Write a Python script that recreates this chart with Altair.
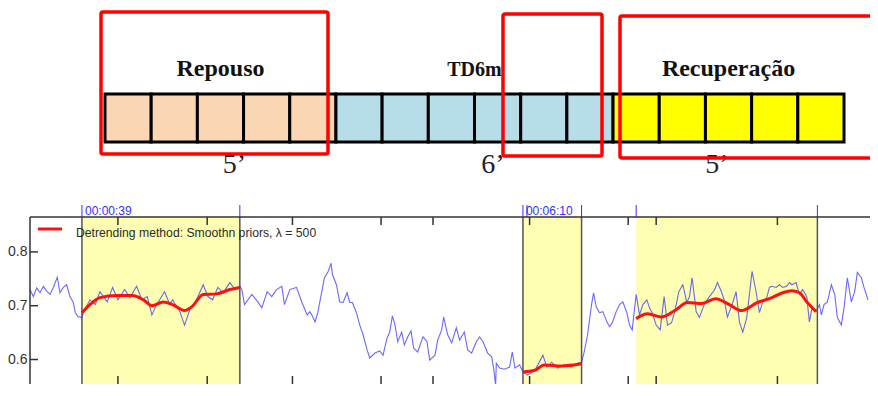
import altair as alt
import pandas as pd

# ---------------- protocol diagram ----------------
phases = ["Repouso", "TD6m", "Recuperação"]
phase_minutes = [5, 6, 5]
phase_colors = ["#FAD6B4", "#B7DEE8", "#FFFF00"]
duration_labels = ["5’", "6’", "5’"]
duration_label_pos = [2.8, 8.4, 13.25]   # minute units

# ---------------- signal (time in s, value) ----------------
seg1_t = [0, 2.5, 5, 7.5, 10, 12.5, 15, 17.5, 20.5, 22.5, 25, 27.5, 30, 32.5, 34, 36, 39]
seg1_v = [0.730, 0.717, 0.733, 0.724, 0.736, 0.727, 0.721, 0.734, 0.753, 0.724, 0.734, 0.739,
          0.717, 0.706, 0.687, 0.680, 0.678]
seg2_t = [40, 45, 49, 52.5, 58, 62, 66, 71, 75, 80, 84, 88, 91.5, 95, 101, 105, 107, 112.5, 116,
          120, 125, 130, 133.5, 137, 141, 145, 150, 154, 157.5]
seg2_v = [0.687, 0.711, 0.702, 0.726, 0.707, 0.734, 0.711, 0.730, 0.715, 0.736, 0.711, 0.717,
          0.683, 0.702, 0.726, 0.702, 0.711, 0.689, 0.664, 0.693, 0.711, 0.739, 0.717, 0.711,
          0.734, 0.724, 0.743, 0.730, 0.736]
seg3_t = [159, 161, 166.5, 171, 174, 178, 181.5, 185, 189, 191, 195, 200, 204, 208, 210]
seg3_v = [0.730, 0.702, 0.721, 0.707, 0.696, 0.726, 0.717, 0.730, 0.736, 0.702, 0.730, 0.734,
          0.707, 0.683, 0.689]
seg4_t = [211.5, 214, 216, 219, 221, 223.5, 226, 227, 230, 232.5, 235, 238, 240, 242, 245, 247.5,
          250, 253, 255, 259, 262.5, 265, 268, 270, 272, 274, 276, 279, 281, 283.5, 286, 288,
          291, 295, 298, 300, 304, 306, 309, 310.5, 313.5]
seg4_v = [0.683, 0.670, 0.687, 0.726, 0.752, 0.762, 0.779, 0.758, 0.739, 0.707, 0.706, 0.724,
          0.706, 0.706, 0.687, 0.664, 0.646, 0.618, 0.603, 0.612, 0.616, 0.608, 0.640, 0.651,
          0.681, 0.664, 0.633, 0.651, 0.627, 0.642, 0.653, 0.621, 0.614, 0.642, 0.633, 0.599,
          0.608, 0.636, 0.655, 0.679, 0.646]
seg5_t = [316.5, 320, 322.5, 326, 328.5, 331.5, 335, 337.5, 340, 343.5, 346.5, 348, 349.5, 350,
          352.5, 356, 360, 362, 364, 367.5, 370]
seg5_v = [0.631, 0.659, 0.636, 0.651, 0.618, 0.612, 0.633, 0.642, 0.633, 0.612, 0.605, 0.584,
          0.552, 0.593, 0.584, 0.582, 0.586, 0.614, 0.584, 0.590, 0.577]
seg6_t = [373.5, 379, 385, 388, 391.5, 396, 401, 406.5, 411, 414]
seg6_v = [0.571, 0.580, 0.608, 0.586, 0.595, 0.584, 0.590, 0.586, 0.593, 0.595]
seg7_t = [416, 418.5, 421.5, 423, 425, 427.5, 430, 433, 435, 437, 440, 442.5, 445, 448, 450, 452, 455]
seg7_v = [0.614, 0.646, 0.702, 0.724, 0.698, 0.687, 0.689, 0.670, 0.661, 0.668, 0.689, 0.702,
          0.707, 0.687, 0.664, 0.655, 0.721]
seg8_t = [457.5, 460, 463, 465, 467, 470, 473, 476, 478.5, 481.5, 484, 487, 490, 493, 495, 497,
          500, 502.5, 506, 510, 514, 516, 519, 521, 523.5, 527, 530, 532.5, 535, 538, 540, 542,
          545, 547.5, 550, 553, 555, 557, 560, 562.5, 565, 568, 570, 572, 575, 577.5, 580, 583,
          585, 587, 590]
seg8_v = [0.683, 0.702, 0.711, 0.696, 0.687, 0.664, 0.655, 0.717, 0.664, 0.668, 0.689, 0.726,
          0.739, 0.706, 0.717, 0.752, 0.689, 0.678, 0.702, 0.717, 0.730, 0.743, 0.726, 0.711,
          0.679, 0.702, 0.726, 0.670, 0.651, 0.678, 0.721, 0.764, 0.726, 0.687, 0.707, 0.715,
          0.734, 0.736, 0.734, 0.739, 0.734, 0.736, 0.743, 0.739, 0.743, 0.721, 0.730, 0.717,
          0.670, 0.696, 0.689]
seg9_t = [592.5, 594, 596, 598.5, 601.5, 604, 606, 609, 611, 613.5, 616.5, 619, 621, 624, 626, 629]
seg9_v = [0.702, 0.683, 0.702, 0.707, 0.739, 0.721, 0.678, 0.664, 0.696, 0.752, 0.707, 0.726,
          0.762, 0.752, 0.734, 0.711]

# smoothed (detrended) curves in the three windows
red1_t = [39, 45, 52.5, 65, 77, 85, 91.5, 100, 107, 116, 121.5, 130, 140, 150, 157.5]
red1_v = [0.687, 0.702, 0.715, 0.719, 0.719, 0.711, 0.700, 0.707, 0.702, 0.691, 0.698, 0.721,
          0.722, 0.730, 0.734]
red2_t = [370, 379, 386, 399, 414]
red2_v = [0.577, 0.580, 0.590, 0.588, 0.592]
red3_t = [455, 463.5, 474, 484, 493.5, 504, 514.5, 525, 534, 546, 555, 565, 571.5, 577.5, 583.5, 590]
red3_v = [0.676, 0.685, 0.679, 0.691, 0.706, 0.704, 0.713, 0.702, 0.691, 0.706, 0.713, 0.724,
          0.728, 0.724, 0.706, 0.689]

shade_start = [39, 370, 455]
shade_end = [157.5, 414, 591]
edge_lines = [39, 157.5, 370, 414, 591]
marker_lines = [39, 157.5, 370, 373, 414, 455, 591]
marker_times = [39, 370]
marker_labels = ["00:00:39", "00:06:10"]
tick_times = [66, 133, 197, 263.5, 302.5, 375, 449, 470, 561]
y_ticks = [0.6, 0.7, 0.8]
legend_text = "Detrending method: Smoothn priors, λ = 500"

# ---------------- layout ----------------
W, H = 840, 376
FRAME_TOP = 209
diag_x = alt.Scale(domain=[-1.624, 16.563], nice=False, zero=False)
time_x = alt.Scale(domain=[0, 630.5], nice=False, zero=False)
val_y = alt.Scale(domain=[0.5545, 1.2533], nice=False, zero=False)
one = pd.DataFrame({"k": [0]})

# tables
box_rows = []
m = 0
for ph, n in zip(phases, phase_minutes):
    for i in range(n):
        box_rows.append({"phase": ph, "start": m, "end": m + 1})
        m += 1
box_df = pd.DataFrame(box_rows)
starts = [sum(phase_minutes[:i]) for i in range(len(phases))]
phase_df = pd.DataFrame({"phase": phases,
                         "center": [s + n / 2 for s, n in zip(starts, phase_minutes)]})
dur_df = pd.DataFrame({"label": duration_labels, "pos": duration_label_pos})

segs_t = [seg1_t, seg2_t, seg3_t, seg4_t, seg5_t, seg6_t, seg7_t, seg8_t, seg9_t]
segs_v = [seg1_v, seg2_v, seg3_v, seg4_v, seg5_v, seg6_v, seg7_v, seg8_v, seg9_v]
blue_t = [t for s in segs_t for t in s]
blue_v = [v for s in segs_v for v in s]
blue_df = pd.DataFrame({"t": blue_t, "v": blue_v})
red_df = pd.concat([
    pd.DataFrame({"t": red1_t, "v": red1_v, "seg": 1}),
    pd.DataFrame({"t": red2_t, "v": red2_v, "seg": 2}),
    pd.DataFrame({"t": red3_t, "v": red3_v, "seg": 3}),
])
shade_df = pd.DataFrame({"a": shade_start, "b": shade_end})
edge_df = pd.DataFrame({"t": edge_lines})
mark_df = pd.DataFrame({"t": marker_lines})
lab_df = pd.DataFrame({"t": marker_times, "label": marker_labels})
tick_df = pd.DataFrame({"t": tick_times})
ytick_df = pd.DataFrame({"v": y_ticks})

layers = []

# shaded windows
layers.append(alt.Chart(shade_df).mark_rect(color="#FFFFB3").encode(
    x=alt.X("a:Q", scale=time_x, axis=None), x2="b:Q",
    y=alt.value(FRAME_TOP), y2=alt.value(H)))
# window edges
layers.append(alt.Chart(edge_df).mark_rule(color="#555555", strokeWidth=1.5).encode(
    x=alt.X("t:Q", scale=time_x, axis=None), y=alt.value(FRAME_TOP), y2=alt.value(H)))
layers.append(alt.Chart(mark_df).mark_rule(color="#3030ff", strokeWidth=1).encode(
    x=alt.X("t:Q", scale=time_x, axis=None), y=alt.value(FRAME_TOP - 12), y2=alt.value(FRAME_TOP)))
layers.append(alt.Chart(lab_df).mark_text(color="#3030ff", fontSize=12, align="left", baseline="alphabetic",
                                          font="Liberation Sans", dx=3).encode(
    x=alt.X("t:Q", scale=time_x, axis=None), y=alt.value(FRAME_TOP - 2), text="label:N"))
# raw signal
layers.append(alt.Chart(blue_df).mark_line(color="#2a2aff", strokeWidth=1.1, opacity=0.7).encode(
    x=alt.X("t:Q", scale=time_x, axis=None),
    y=alt.Y("v:Q", scale=val_y,
            axis=alt.Axis(values=y_ticks, ticks=False, domain=False, grid=False, format=".1f",
                          labelFontSize=14, labelFont="Liberation Sans", labelColor="#333333",
                          labelPadding=3, title=None))))
# smoothed
layers.append(alt.Chart(red_df).mark_line(color="#ff1010", strokeWidth=3, interpolate="monotone").encode(
    x=alt.X("t:Q", scale=time_x, axis=None),
    y=alt.Y("v:Q", scale=val_y, axis=None), detail="seg:N"))
# frame & ticks
layers.append(alt.Chart(one).mark_rule(color="#333333", strokeWidth=1.5).encode(
    x=alt.value(0), x2=alt.value(W), y=alt.value(FRAME_TOP)))
layers.append(alt.Chart(one).mark_rule(color="#333333", strokeWidth=1.5).encode(
    x=alt.value(0), y=alt.value(FRAME_TOP), y2=alt.value(H)))
layers.append(alt.Chart(ytick_df).mark_rule(color="#333333", strokeWidth=1.5).encode(
    y=alt.Y("v:Q", scale=val_y, axis=None), x=alt.value(0), x2=alt.value(8)))
layers.append(alt.Chart(tick_df).mark_rule(color="#333333", strokeWidth=1.5).encode(
    x=alt.X("t:Q", scale=time_x, axis=None), y=alt.value(FRAME_TOP), y2=alt.value(FRAME_TOP + 8)))
layers.append(alt.Chart(tick_df).mark_rule(color="#333333", strokeWidth=1.5).encode(
    x=alt.X("t:Q", scale=time_x, axis=None), y=alt.value(H - 8), y2=alt.value(H)))
# legend
layers.append(alt.Chart(one).mark_rule(color="#ff1010", strokeWidth=3).encode(
    x=alt.value(8), x2=alt.value(32), y=alt.value(221)))
layers.append(alt.Chart(one).mark_text(align="left", baseline="middle", fontSize=12.2, color="#2a2a2a",
                                       font="Liberation Sans").encode(
    x=alt.value(46), y=alt.value(225), text=alt.value(legend_text)))

# protocol boxes
layers.append(alt.Chart(box_df).mark_rect(stroke="black", strokeWidth=3).encode(
    x=alt.X("start:Q", scale=diag_x, axis=None), x2="end:Q",
    y=alt.value(86), y2=alt.value(134),
    color=alt.Color("phase:N", scale=alt.Scale(domain=phases, range=phase_colors), legend=None)))
label_sizes = [24, 20, 24]
for i, ph in enumerate(phases):
    layers.append(alt.Chart(phase_df.iloc[[i]]).mark_text(
        font="Liberation Serif", fontWeight="bold", fontSize=label_sizes[i], color="#111111",
        baseline="alphabetic").encode(
        x=alt.X("center:Q", scale=diag_x, axis=None), y=alt.value(68), text="phase:N"))
layers.append(alt.Chart(dur_df).mark_text(font="Liberation Serif", fontSize=28, color="#1e1e30",
                                          baseline="alphabetic").encode(
    x=alt.X("pos:Q", scale=diag_x, axis=None), y=alt.value(165), text="label:N"))
# red highlight frames
red_boxes = [(71, 298, 4, 146), (473, 572, 6, 148), (590, 900, 8, 150)]
for x1, x2, y1, y2 in red_boxes:
    layers.append(alt.Chart(one).mark_rect(filled=False, stroke="#ff0000", strokeWidth=3.5,
                                           cornerRadius=2).encode(
        x=alt.value(x1), x2=alt.value(x2), y=alt.value(y1), y2=alt.value(y2)))

chart = alt.layer(*layers).resolve_scale(
    x="independent", y="independent", color="independent"
).properties(
    width=W, height=H,
    autosize=alt.AutoSizeParams(type="none"),
    padding={"left": 22, "top": 0, "right": 0, "bottom": 0},
).configure_view(stroke=None)

chart.save("out.html", embed_options={"renderer": "svg", "actions": False})
